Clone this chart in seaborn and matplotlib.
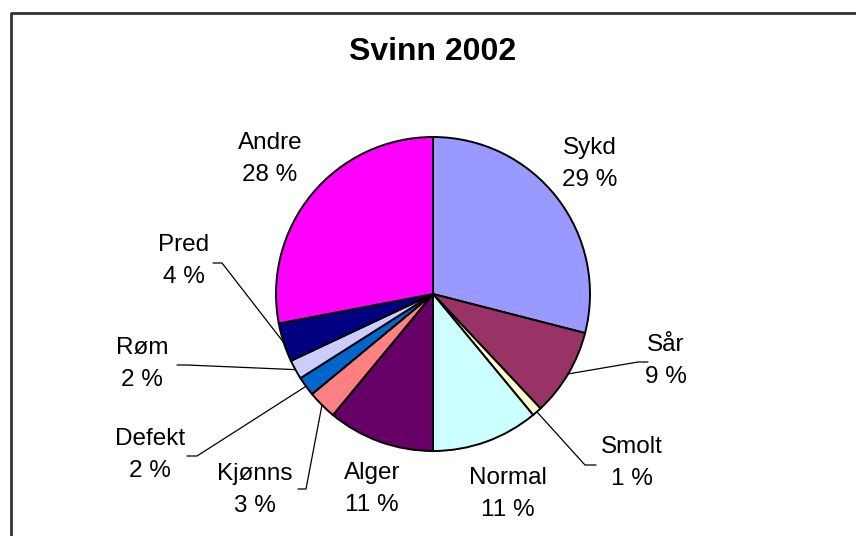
import numpy as np
import matplotlib
matplotlib.use("Agg")
import matplotlib.pyplot as plt
import seaborn as sns

# data, clockwise from 12 o'clock
labels = ["Sykd", "Sår", "Smolt", "Normal", "Alger", "Kjønns", "Defekt", "Røm", "Pred", "Andre"]
shares = [29, 9, 1, 11, 11, 3, 2, 2, 4, 28]
colors = ["#9999FF", "#993366", "#FFFFCC", "#CCFFFF", "#660066",
          "#FF8080", "#0066CC", "#CCCCFF", "#000080", "#FF00FF"]
title = "Svinn 2002"

# layout in pixel coordinates (y measured from top)
W, H = 856, 536
center = (433, 294)
radius = 157
label_pos = [(590, 164), (666, 361), (632, 463), (508, 494), (372, 489),
             (255, 490), (150, 455), (142, 364), (184, 261), (270, 159)]
# leader lines: elbow point and tail end, None when no line
leaders = [None, ((638, 362), (648, 362)), ((585, 465), (596, 465)), None, None,
           ((306, 489), (298, 489)), ((197, 456), (187, 456)),
           ((187, 365), (177, 365)), ((222, 263), (213, 263)), None]


def main():
    sns.set_theme(style="white")
    plt.rcParams["font.family"] = ["Liberation Sans", "DejaVu Sans"]
    plt.rcParams["text.color"] = "black"

    fig = plt.figure(figsize=(W / 100, H / 100), dpi=100)
    ax = fig.add_axes([0, 0, 1, 1])

    cx, cy = center[0], H - center[1]
    ax.pie(shares, colors=colors, startangle=90, counterclock=False,
           center=(cx, cy), radius=radius, frame=True,
           wedgeprops=dict(edgecolor="black", linewidth=1.4))
    ax.set_xlim(0, W)
    ax.set_ylim(0, H)
    ax.set_aspect("equal")
    ax.axis("off")

    # leader lines from the middle of each wedge edge
    cum = np.cumsum([0] + shares[:-1])
    for i, share in enumerate(shares):
        mid = (cum[i] + share / 2) / sum(shares) * 2 * np.pi
        ex = cx + radius * np.sin(mid)
        ey = cy + radius * np.cos(mid)
        if leaders[i] is not None:
            (bx, by), (tx, ty) = leaders[i]
            ax.plot([ex, bx, tx], [ey, H - by, H - ty], color="black", lw=0.9)
        lx, ly = label_pos[i]
        ax.text(lx, H - ly, f"{labels[i]}\n{share} %", ha="center", va="center",
                fontsize=17.5, linespacing=1.55, color="black")

    ax.text(433, H - 52, title, ha="center", va="center", fontsize=23,
            fontweight="bold", color="black")

    # chart border
    ax.plot([11, 11, W + 5], [-5, H - 13, H - 13], color="#333333", lw=2,
            clip_on=False)
    fig.text(30 / W, 1 + 4 / H, "g", fontsize=14, fontweight="bold",
             ha="center", va="baseline", color="black")

    fig.savefig("out.png", dpi=100)


if __name__ == '__main__':
    main()
